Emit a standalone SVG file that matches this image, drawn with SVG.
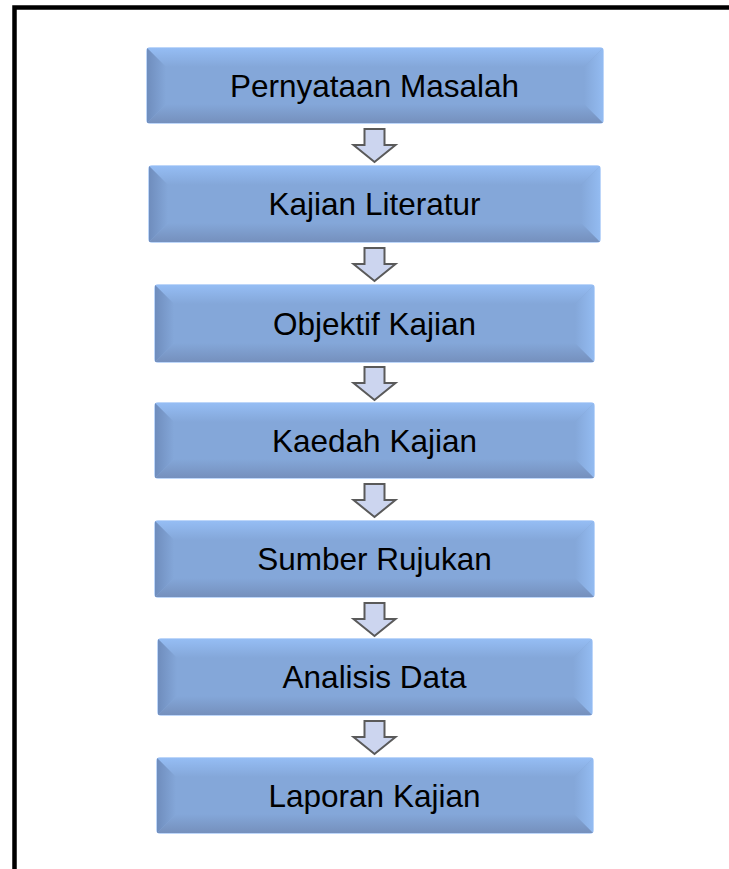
<svg xmlns="http://www.w3.org/2000/svg" width="729" height="869" viewBox="0 0 729 869">
<style>
.base{fill:#84a7d9;stroke:#a8c9f7;stroke-width:1.5}
.top{fill:url(#gTop)}
.left{fill:url(#gLeft)}
.right{fill:url(#gRight)}
.bot{fill:url(#gBot)}
.lbl{font-family:"Liberation Sans",Arial,sans-serif;font-size:31.5px;fill:#000;text-anchor:middle}
.arrow{fill:#ccd5ef;stroke:#5a5a5a;stroke-width:2;stroke-linejoin:miter}
</style>
<defs>
<linearGradient id="gTop" x1="0" y1="0" x2="0" y2="1"><stop offset="0" stop-color="#95bdf4"/><stop offset="1" stop-color="#84a7d9"/></linearGradient>
<linearGradient id="gLeft" x1="0" y1="0" x2="1" y2="0"><stop offset="0" stop-color="#6f8dbd"/><stop offset="1" stop-color="#84a7d9"/></linearGradient>
<linearGradient id="gRight" x1="0" y1="0" x2="1" y2="0"><stop offset="0" stop-color="#84a7d9"/><stop offset="1" stop-color="#93bbf1"/></linearGradient>
<linearGradient id="gBot" x1="0" y1="0" x2="0" y2="1"><stop offset="0" stop-color="#84a7d9"/><stop offset="1" stop-color="#7590bd"/></linearGradient>
<path id="arr" class="arrow" d="M-10,0 H10 V16 H21 L0,33 L-21,16 H-10 Z"/>
</defs>
<rect x="14.5" y="7.5" width="725" height="875" fill="#fff" stroke="#000" stroke-width="4.5"/>

<g id="connectors">
<use href="#arr" x="374.5" y="129"/>
<use href="#arr" x="374.5" y="248"/>
<use href="#arr" x="374.5" y="367"/>
<use href="#arr" x="374.5" y="484"/>
<use href="#arr" x="374.5" y="603"/>
<use href="#arr" x="374.5" y="721"/>
</g>

<g id="n1">
<rect class="base" x="147" y="48" width="456" height="75" rx="3"/>
<polygon class="top" points="147,48 603,48 584,67 166,67"/>
<polygon class="left" points="147,48 166,67 166,104 147,123"/>
<polygon class="right" points="603,48 603,123 584,104 584,67"/>
<polygon class="bot" points="147,123 166,104 584,104 603,123"/>
<text class="lbl" x="374.5" y="96.5">Pernyataan Masalah</text>
</g>

<g id="n2">
<rect class="base" x="149" y="166" width="451" height="76" rx="3"/>
<polygon class="top" points="149,166 600,166 581,185 168,185"/>
<polygon class="left" points="149,166 168,185 168,223 149,242"/>
<polygon class="right" points="600,166 600,242 581,223 581,185"/>
<polygon class="bot" points="149,242 168,223 581,223 600,242"/>
<text class="lbl" x="374.5" y="215">Kajian Literatur</text>
</g>

<g id="n3">
<rect class="base" x="155" y="285" width="439" height="77" rx="3"/>
<polygon class="top" points="155,285 594,285 575,304 174,304"/>
<polygon class="left" points="155,285 174,304 174,343 155,362"/>
<polygon class="right" points="594,285 594,362 575,343 575,304"/>
<polygon class="bot" points="155,362 174,343 575,343 594,362"/>
<text class="lbl" x="374.5" y="334.5">Objektif Kajian</text>
</g>

<g id="n4">
<rect class="base" x="155" y="403" width="439" height="75" rx="3"/>
<polygon class="top" points="155,403 594,403 575,422 174,422"/>
<polygon class="left" points="155,403 174,422 174,459 155,478"/>
<polygon class="right" points="594,403 594,478 575,459 575,422"/>
<polygon class="bot" points="155,478 174,459 575,459 594,478"/>
<text class="lbl" x="374.5" y="451.5">Kaedah Kajian</text>
</g>

<g id="n5">
<rect class="base" x="155" y="521" width="439" height="76" rx="3"/>
<polygon class="top" points="155,521 594,521 575,540 174,540"/>
<polygon class="left" points="155,521 174,540 174,578 155,597"/>
<polygon class="right" points="594,521 594,597 575,578 575,540"/>
<polygon class="bot" points="155,597 174,578 575,578 594,597"/>
<text class="lbl" x="374.5" y="570">Sumber Rujukan</text>
</g>

<g id="n6">
<rect class="base" x="158" y="639" width="434" height="76" rx="3"/>
<polygon class="top" points="158,639 592,639 573,658 177,658"/>
<polygon class="left" points="158,639 177,658 177,696 158,715"/>
<polygon class="right" points="592,639 592,715 573,696 573,658"/>
<polygon class="bot" points="158,715 177,696 573,696 592,715"/>
<text class="lbl" x="374.5" y="688">Analisis Data</text>
</g>

<g id="n7">
<rect class="base" x="157" y="758" width="436" height="75" rx="3"/>
<polygon class="top" points="157,758 593,758 574,777 176,777"/>
<polygon class="left" points="157,758 176,777 176,814 157,833"/>
<polygon class="right" points="593,758 593,833 574,814 574,777"/>
<polygon class="bot" points="157,833 176,814 574,814 593,833"/>
<text class="lbl" x="374.5" y="806.5">Laporan Kajian</text>
</g>
</svg>
